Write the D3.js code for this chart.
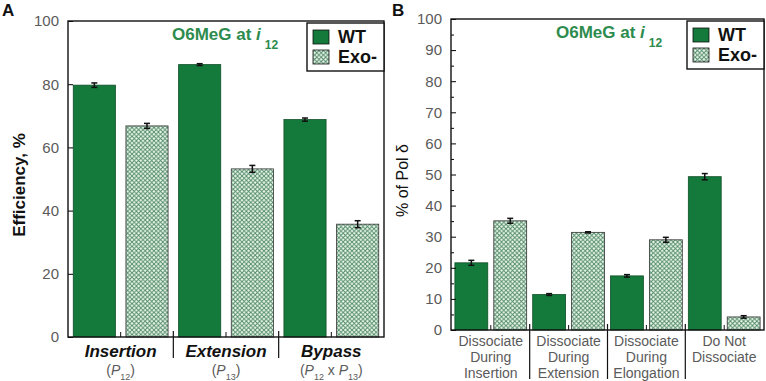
<!DOCTYPE html>
<html>
<head>
<meta charset="utf-8">
<script src="https://cdn.jsdelivr.net/npm/d3@7"></script>
<style>
  body { margin: 0; background: #fff; }
  svg { font-family: Arial, "Liberation Sans", sans-serif; }
</style>
</head>
<body>
<div id="chart"></div>
<script>
// panel A data
const stepsA = ['Insertion', 'Extension', 'Bypass'];
const wtA = [79.7, 86.2, 68.8];
const wtErrA = [0.7, 0.3, 0.5];
const exoA = [66.8, 53.2, 35.7];
const exoErrA = [0.8, 1.1, 1.1];
const ticksA = [0, 20, 40, 60, 80, 100];

// panel B data
const groupsB = [
  ['Dissociate', 'During', 'Insertion'],
  ['Dissociate', 'During', 'Extension'],
  ['Dissociate', 'During', 'Elongation'],
  ['Do Not', 'Dissociate']
];
const wtB = [21.6, 11.4, 17.4, 49.3];
const wtErrB = [0.8, 0.3, 0.4, 1.0];
const exoB = [35.1, 31.4, 29.0, 4.2];
const exoErrB = [0.8, 0.2, 0.8, 0.4];
const ticksB = [0, 10, 20, 30, 40, 50, 60, 70, 80, 90, 100];

const series = ['WT', 'Exo-'];

const green = '#137a3c';
const titleGreen = '#2e8b4e';
const gray = '#5a5a5a';

const svg = d3.select('#chart').append('svg')
  .attr('width', 766)
  .attr('height', 381);

// crosshatch for Exo-
const defs = svg.append('defs');
const pat = defs.append('pattern')
  .attr('id', 'hatch')
  .attr('patternUnits', 'userSpaceOnUse')
  .attr('width', 4.4)
  .attr('height', 4.4);
pat.append('rect').attr('width', 4.4).attr('height', 4.4).attr('fill', '#ecf9f0');
pat.append('path')
  .attr('d', 'M0,0L4.4,4.4M4.4,0L0,4.4')
  .attr('stroke', '#4f8763')
  .attr('stroke-width', 0.9);

function flatten(wt, wtErr, exo, exoErr) {
  const out = [];
  wt.forEach((v, i) => {
    out.push({ g: i, s: 0, v: v, e: wtErr[i] });
    out.push({ g: i, s: 1, v: exo[i], e: exoErr[i] });
  });
  return out;
}

function drawPanel(opt) {
  const g = svg.append('g');
  const x = d3.scaleBand()
    .domain(d3.range(opt.data.length))
    .range([opt.left, opt.right])
    .paddingInner(opt.padIn)
    .paddingOuter(opt.padOut);
  const y = d3.scaleLinear().domain([0, 100]).range([opt.bottom, opt.top]);

  // bars
  g.selectAll('rect.bar')
    .data(opt.data)
    .enter().append('rect')
    .attr('class', 'bar')
    .attr('x', (d, i) => x(i))
    .attr('width', x.bandwidth())
    .attr('y', d => y(d.v))
    .attr('height', d => y(0) - y(d.v))
    .attr('fill', d => d.s === 0 ? green : 'url(#hatch)')
    .attr('stroke', d => d.s === 0 ? '#0e4f27' : '#333')
    .attr('stroke-width', 0.8);

  // error bars
  const eb = g.selectAll('g.err')
    .data(opt.data)
    .enter().append('g')
    .attr('class', 'err')
    .attr('stroke', '#111')
    .attr('stroke-width', 1.5);
  eb.append('line')
    .attr('x1', (d, i) => x(i) + x.bandwidth() / 2)
    .attr('x2', (d, i) => x(i) + x.bandwidth() / 2)
    .attr('y1', d => y(d.v + d.e))
    .attr('y2', d => y(d.v - d.e));
  eb.append('line')
    .attr('x1', (d, i) => x(i) + x.bandwidth() / 2 - 3)
    .attr('x2', (d, i) => x(i) + x.bandwidth() / 2 + 3)
    .attr('y1', d => y(d.v + d.e))
    .attr('y2', d => y(d.v + d.e));
  eb.append('line')
    .attr('x1', (d, i) => x(i) + x.bandwidth() / 2 - 3)
    .attr('x2', (d, i) => x(i) + x.bandwidth() / 2 + 3)
    .attr('y1', d => y(d.v - d.e))
    .attr('y2', d => y(d.v - d.e));

  // y axis, ticks inward
  const yAxis = g.append('g')
    .attr('transform', `translate(${opt.left},0)`)
    .call(d3.axisLeft(y).tickValues(opt.ticks).tickSize(-5).tickPadding(9));
  yAxis.select('.domain').remove();
  yAxis.selectAll('text')
    .attr('fill', gray)
    .style('font-size', '15px');
  if (opt.minor) {
    g.append('g')
      .attr('transform', `translate(${opt.left},0)`)
      .call(d3.axisLeft(y).tickValues(opt.minor).tickSize(-3).tickFormat(''))
      .select('.domain').remove();
  }

  // frame
  g.append('rect')
    .attr('x', opt.left)
    .attr('y', opt.top)
    .attr('width', opt.right - opt.left)
    .attr('height', opt.bottom - opt.top)
    .attr('fill', 'none')
    .attr('stroke', '#111')
    .attr('stroke-width', 1.4);

  // group ticks: small inside tick mid-group, separators below
  const nG = opt.data.length / 2;
  const step = x.step();
  for (let k = 0; k < nG; k++) {
    const mid = (x(2 * k) + x(2 * k + 1) + x.bandwidth()) / 2;
    g.append('line')
      .attr('x1', mid).attr('x2', mid)
      .attr('y1', opt.bottom).attr('y2', opt.bottom - 5)
      .attr('stroke', '#111').attr('stroke-width', 1);
    if (k > 0) {
      const sep = x(2 * k) - (step - x.bandwidth()) / 2;
      g.append('line')
        .attr('x1', sep).attr('x2', sep)
        .attr('y1', opt.bottom - 6).attr('y2', opt.sepEnd)
        .attr('stroke', '#111').attr('stroke-width', 1.2);
    }
  }

  // legend
  const lg = g.append('g');
  lg.append('rect')
    .attr('x', opt.right - 77)
    .attr('y', opt.top + 2)
    .attr('width', 77)
    .attr('height', 48)
    .attr('fill', '#fff')
    .attr('stroke', '#111')
    .attr('stroke-width', 1.4);
  series.forEach((s, i) => {
    lg.append('rect')
      .attr('x', opt.right - 71)
      .attr('y', opt.top + 9 + i * 20)
      .attr('width', 16)
      .attr('height', 14)
      .attr('fill', i === 0 ? green : 'url(#hatch)')
      .attr('stroke', '#111')
      .attr('stroke-width', 0.8);
    lg.append('text')
      .attr('x', opt.right - 46)
      .attr('y', opt.top + 22 + i * 20)
      .attr('font-size', 18)
      .attr('font-weight', 'bold')
      .attr('fill', '#111')
      .text(s);
  });

  // title
  const t = g.append('text')
    .attr('x', opt.titleX)
    .attr('y', opt.top + 19)
    .attr('font-size', 17)
    .attr('font-weight', 'bold')
    .attr('fill', titleGreen);
  t.append('tspan').text('O6MeG at ');
  t.append('tspan').attr('font-style', 'italic').text('i');
  t.append('tspan').attr('dx', 4).attr('dy', 9).attr('font-size', 12).text('12');

  // panel letter
  g.append('text')
    .attr('x', opt.letterX)
    .attr('y', 16)
    .attr('font-size', 17)
    .attr('font-weight', 'bold')
    .attr('fill', '#111')
    .text(opt.letter);

  // y title
  g.append('text')
    .attr('transform', `translate(${opt.yTitleX},${(opt.top + opt.bottom) / 2 + 6}) rotate(-90)`)
    .attr('text-anchor', 'middle')
    .attr('font-size', opt.yTitleSize)
    .attr('font-weight', opt.yTitleWeight)
    .attr('fill', '#111')
    .text(opt.yTitle);

  return { x: x, y: y, g: g };
}

// panel A
const pa = drawPanel({
  data: flatten(wtA, wtErrA, exoA, exoErrA),
  left: 68, right: 384, top: 21, bottom: 337,
  padIn: 0.2, padOut: 0.1,
  ticks: ticksA, minor: null,
  sepEnd: 358,
  titleX: 172, letter: 'A', letterX: 2,
  yTitle: 'Efficiency, %', yTitleX: 25, yTitleSize: 17, yTitleWeight: 'bold'
});

const subA = [['12'], ['13'], ['12', '13']];
stepsA.forEach((s, k) => {
  const cx = (pa.x(2 * k) + pa.x(2 * k + 1) + pa.x.bandwidth()) / 2;
  pa.g.append('text')
    .attr('x', cx).attr('y', 357)
    .attr('text-anchor', 'middle')
    .attr('font-size', 17)
    .attr('font-weight', 'bold')
    .attr('font-style', 'italic')
    .attr('fill', '#111')
    .text(s);
  const t = pa.g.append('text')
    .attr('x', cx).attr('y', 375)
    .attr('text-anchor', 'middle')
    .attr('font-size', 14)
    .attr('fill', gray);
  t.append('tspan').text('(');
  subA[k].forEach((n, j) => {
    if (j > 0) t.append('tspan').attr('dy', -5).text(' x ');
    t.append('tspan').attr('font-style', 'italic').text('P');
    t.append('tspan').attr('font-size', 9).attr('dy', 5).text(n);
  });
  t.append('tspan').attr('dy', -5).text(')');
});

// panel B
const pb = drawPanel({
  data: flatten(wtB, wtErrB, exoB, exoErrB),
  left: 451, right: 764, top: 19, bottom: 330,
  padIn: 0.155, padOut: 0.1,
  ticks: ticksB, minor: d3.range(5, 100, 10),
  sepEnd: 379,
  titleX: 556, letter: 'B', letterX: 392,
  yTitle: '% of Pol δ', yTitleX: 408, yTitleSize: 16, yTitleWeight: 'normal'
});

groupsB.forEach((lines, k) => {
  const cx = (pb.x(2 * k) + pb.x(2 * k + 1) + pb.x.bandwidth()) / 2;
  const t = pb.g.append('text')
    .attr('text-anchor', 'middle')
    .attr('font-size', 14)
    .attr('fill', gray);
  lines.forEach((l, j) => {
    t.append('tspan').attr('x', cx).attr('y', 346 + j * 16).text(l);
  });
});
</script>
</body>
</html>
